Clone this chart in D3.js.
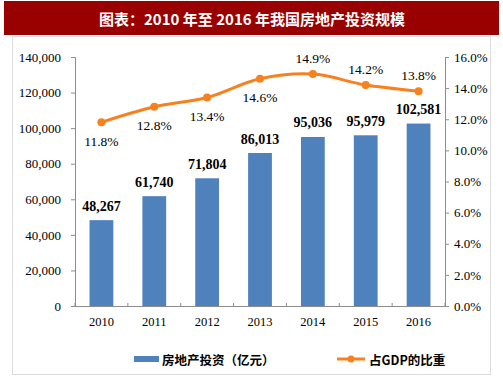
<!DOCTYPE html>
<html><head><meta charset="utf-8">
<script src="https://cdn.jsdelivr.net/npm/d3@7"></script>
<style>body{margin:0;background:#fff}</style>
</head><body><svg id="c" width="503" height="378"></svg>
<script>
const years = ["2010","2011","2012","2013","2014","2015","2016"];
const investment = [48267, 61740, 71804, 86013, 95036, 95979, 102581];
const gdpShare = [11.8, 12.8, 13.4, 14.6, 14.9, 14.2, 13.8];
const leftTicks = [0,20000,40000,60000,80000,100000,120000,140000];
const rightTicks = [0,2,4,6,8,10,12,14,16];
const labelBelow = [true,true,true,true,false,false,false];

const svg = d3.select("#c");
const serif = "'Liberation Serif','Times New Roman',serif";
const cjk = "'Noto Sans CJK SC','Noto Sans',sans-serif";
const blue = "#4F81BD", orange = "#F7811E", axisC = "#8c8c8c";

// title bar
svg.append("rect").attr("x",4).attr("y",1).attr("width",495).attr("height",34).attr("fill","#990000");
svg.append("text").attr("x",252).attr("y",18).attr("text-anchor","middle").attr("dominant-baseline","central")
  .attr("fill","#fff").attr("font-family",cjk).attr("font-weight","bold").attr("font-size",15)
  .text("图表：2010 年至 2016 年我国房地产投资规模");
// panel
svg.append("rect").attr("x",12.5).attr("y",36.5).attr("width",478).attr("height",338)
  .attr("fill","#fff").attr("stroke","#dcdcdc");

const x0 = 75, x1 = 445, yTop = 57, yBot = 306;
const x = d3.scaleBand().domain(years).range([x0,x1]).paddingInner(0.55).paddingOuter(0.275);
const yL = d3.scaleLinear().domain([0,140000]).range([yBot,yTop]);
const yR = d3.scaleLinear().domain([0,16]).range([yBot,yTop]);

// bars
svg.selectAll(".bar").data(investment).enter().append("rect")
  .attr("x",(d,i)=>x(years[i])).attr("width",x.bandwidth())
  .attr("y",d=>yL(d)).attr("height",d=>yBot-yL(d)).attr("fill",blue);

// axes
const fmt = d3.format(",");
const gL = svg.append("g").attr("transform",`translate(${x0},0)`)
  .call(d3.axisLeft(yL).tickValues(leftTicks).tickFormat(fmt).tickSize(4).tickPadding(10));
const gR = svg.append("g").attr("transform",`translate(${x1},0)`)
  .call(d3.axisRight(yR).tickValues(rightTicks).tickFormat(d=>d.toFixed(1)+"%").tickSize(4).tickPadding(5));
const xb = d3.scaleLinear().domain([0,7]).range([x0,x1]);
const gX = svg.append("g").attr("transform",`translate(0,${yBot})`)
  .call(d3.axisBottom(x).tickSize(0).tickPadding(11));
gX.selectAll(".tick line").remove();
svg.append("g").selectAll("line").data(d3.range(8)).enter().append("line")
  .attr("x1",d=>xb(d)).attr("x2",d=>xb(d)).attr("y1",yBot).attr("y2",yBot-3).attr("stroke",axisC);
[gL,gR,gX].forEach(g=>{
  g.selectAll("path,line").attr("stroke",axisC);
  g.selectAll("text").attr("font-family",serif).attr("font-size",13).attr("fill","#000");
});
gX.selectAll("text").attr("font-size",12.5);
gX.select(".domain").attr("d",`M${x0},0.5H${x1}`);

// bar labels
svg.selectAll(".bl").data(investment).enter().append("text")
  .attr("x",(d,i)=>x(years[i])+x.bandwidth()/2).attr("y",d=>yL(d)-14)
  .attr("text-anchor","middle").attr("dominant-baseline","central")
  .attr("font-family",serif).attr("font-weight","bold").attr("font-size",14).text(d=>fmt(d));

// line
const cx = (i)=>x(years[i])+x.bandwidth()/2;
svg.append("path").datum(gdpShare)
  .attr("d",d3.line().x((d,i)=>cx(i)).y(d=>yR(d)).curve(d3.curveCatmullRom.alpha(0.5)))
  .attr("fill","none").attr("stroke",orange).attr("stroke-width",3);
svg.selectAll(".pt").data(gdpShare).enter().append("circle")
  .attr("cx",(d,i)=>cx(i)).attr("cy",d=>yR(d)).attr("r",4).attr("fill",orange);
svg.selectAll(".pl").data(gdpShare).enter().append("text")
  .attr("x",(d,i)=>cx(i)).attr("y",(d,i)=>yR(d)+(labelBelow[i]?19:-16))
  .attr("text-anchor","middle").attr("dominant-baseline","central")
  .attr("font-family",serif).attr("font-size",13.5).text(d=>d.toFixed(1)+"%");

// legend
svg.append("rect").attr("x",134).attr("y",356).attr("width",25).attr("height",6).attr("fill",blue);
svg.append("text").attr("x",162).attr("y",359).attr("dominant-baseline","central")
  .attr("font-family",cjk).attr("font-weight","bold").attr("font-size",12.5).text("房地产投资（亿元）");
svg.append("line").attr("x1",337).attr("x2",365).attr("y1",359).attr("y2",359).attr("stroke",orange).attr("stroke-width",3);
svg.append("circle").attr("cx",351).attr("cy",359).attr("r",3.5).attr("fill",orange);
svg.append("text").attr("x",369).attr("y",359).attr("dominant-baseline","central")
  .attr("font-family",cjk).attr("font-weight","bold").attr("font-size",12.5).text("占GDP的比重");
</script></body></html>
